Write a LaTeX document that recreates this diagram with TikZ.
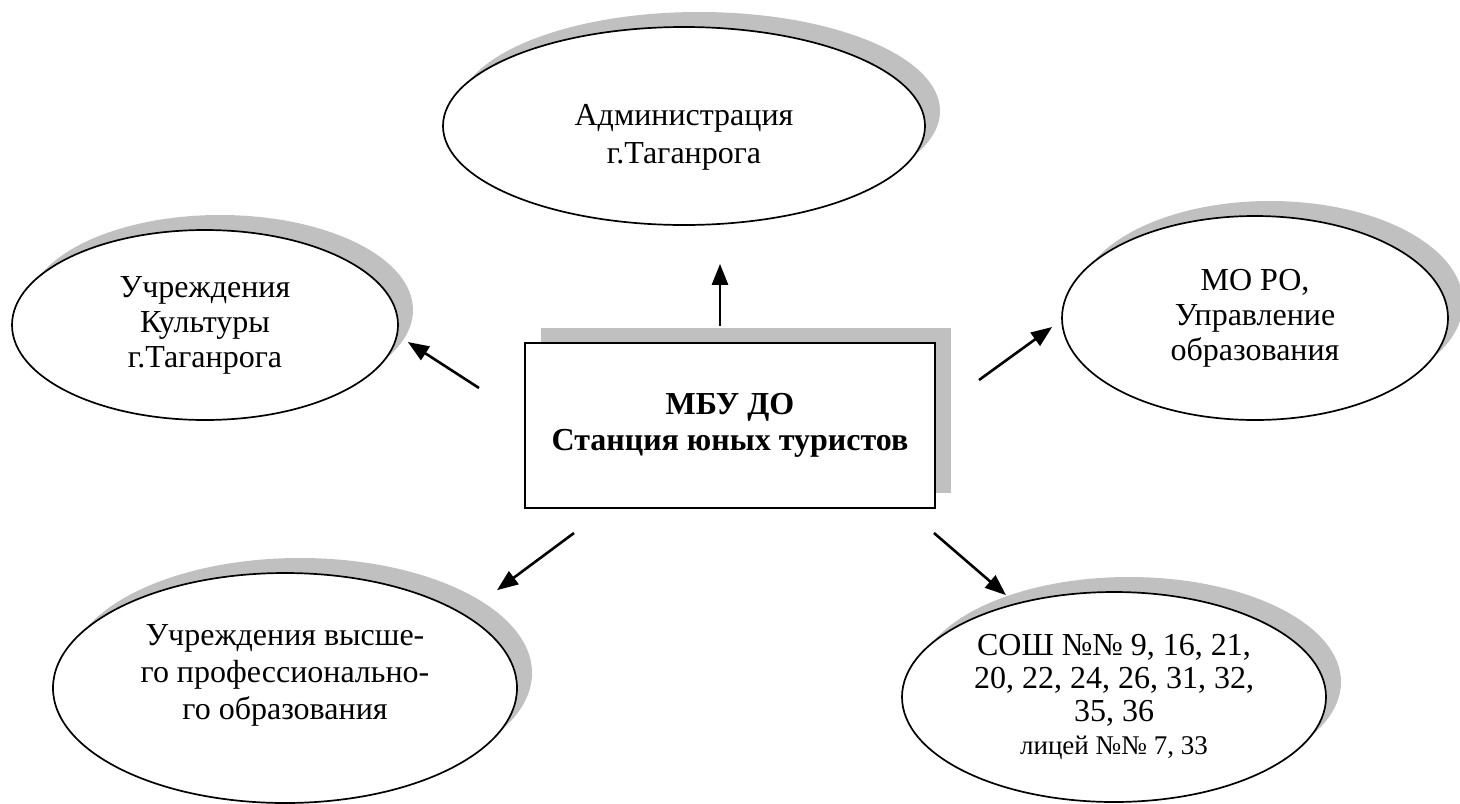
\documentclass[tikz,border=0pt]{standalone}
\usepackage{fontspec}
\setmainfont{Liberation Serif}
\usetikzlibrary{arrows.meta, shapes, shadows}
\definecolor{shadegray}{HTML}{C0C0C0}

\begin{document}
\begin{tikzpicture}[x=0.5pt, y=-0.5pt, >={Triangle[length=10.5pt,width=8pt]},
   partner/.style={ellipse, draw, line width=0.85pt, fill=white, inner sep=0pt, align=center,
      font=\fontsize{16}{17.5}\selectfont,
      drop shadow={shadow xshift=7.5pt, shadow yshift=7.5pt, fill=shadegray, opacity=1}},
   station/.style={rectangle, draw, line width=1pt, fill=white, inner sep=0pt, align=center,
      font=\fontsize{16}{18}\selectfont\bfseries,
      drop shadow={shadow xshift=8pt, shadow yshift=7.5pt, fill=shadegray, opacity=1}},
   link/.style={->, line width=1.3pt}]

   \useasboundingbox (0,0) rectangle (1460,803);

   % Nodes
      \node[station, minimum width=205pt, minimum height=82.5pt] (box)     at (730,425.5) {МБУ ДО\\Станция юных туристов};
      \node[partner, minimum width=241pt, minimum height=99pt,
            font=\fontsize{16}{19}\selectfont]                   (admin)   at (684,126)   {\rule{0pt}{22pt}Администрация\\г.Таганрога};
      \node[partner, minimum width=193pt, minimum height=95pt]   (culture) at (205,325)   {Учреждения\\Культуры\\г.Таганрога};
      \node[partner, minimum width=193pt, minimum height=102pt]  (mo)      at (1255,318)  {МО РО,\\Управление\\образования};
      \node[partner, minimum width=232pt, minimum height=115pt,
            font=\fontsize{16}{18.5}\selectfont]                 (vuz)     at (285,688)   {Учреждения высше-\\го профессионально-\\го образования\rule[-16pt]{0pt}{0pt}};
      \node[partner, minimum width=212pt, minimum height=105pt,
            font=\fontsize{16}{16.5}\selectfont]                 (sosh)    at (1114,697)  {СОШ №№ 9, 16, 21,\\20, 22, 24, 26, 31, 32,\\35, 36\\{\fontsize{13.5}{15}\selectfont лицей №№ 7, 33}};

   % Paths
      \draw[link] ([shift={(-10,-16)}]box.north)       -- ([shift={(36,38)}]admin.south);
      \draw[link] ([shift={(-45,-37.5)}]box.west)      -- ([shift={(9,17)}]culture.east);
      \draw[link] ([shift={(43,-45.5)}]box.east)       -- ([shift={(-9,9)}]mo.west);
      \draw[link] ([shift={(50,24)}]box.south west)    -- ([shift={(212,18)}]vuz.north);
      \draw[link] ([shift={(-2,24)}]box.south east)    -- ([shift={(-108,4)}]sosh.north);
\end{tikzpicture}
\end{document}
